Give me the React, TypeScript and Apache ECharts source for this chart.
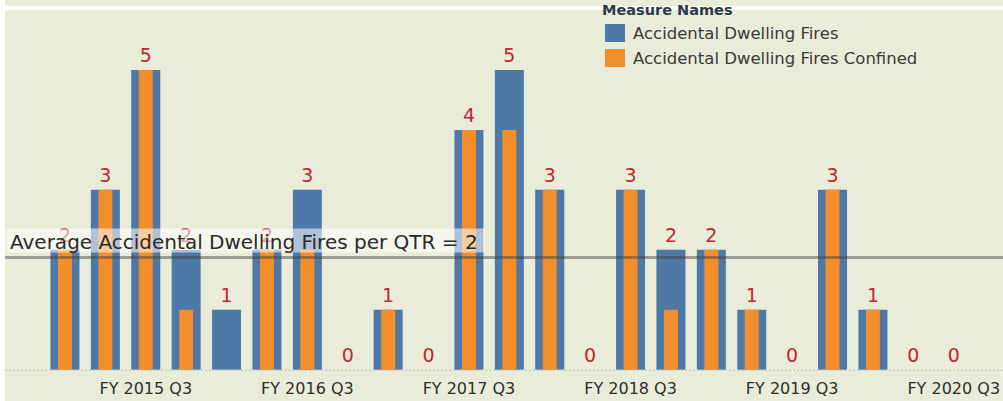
import React, { useEffect, useRef } from "react";
import * as echarts from "echarts";

const categories = [
  "FY 2015 Q1", "FY 2015 Q2", "FY 2015 Q3", "FY 2015 Q4",
  "FY 2016 Q1", "FY 2016 Q2", "FY 2016 Q3", "FY 2016 Q4",
  "FY 2017 Q1", "FY 2017 Q2", "FY 2017 Q3", "FY 2017 Q4",
  "FY 2018 Q1", "FY 2018 Q2", "FY 2018 Q3", "FY 2018 Q4",
  "FY 2019 Q1", "FY 2019 Q2", "FY 2019 Q3", "FY 2019 Q4",
  "FY 2020 Q1", "FY 2020 Q2", "FY 2020 Q3",
];
const fires = [2, 3, 5, 2, 1, 2, 3, 0, 1, 0, 4, 5, 3, 0, 3, 2, 2, 1, 0, 3, 1, 0, 0];
const confined = [2, 3, 5, 1, 0, 2, 2, 0, 1, 0, 4, 4, 3, 0, 3, 1, 2, 1, 0, 3, 1, 0, 0];
const seriesNames = ["Accidental Dwelling Fires", "Accidental Dwelling Fires Confined"];
const legendTitle = "Measure Names";
const avgLabelPrefix = "Average Accidental Dwelling Fires per QTR = ";

const BG = "#e8ecd8";
const BLUE = "#4e79a7";
const ORANGE = "#f28e2b";
const RED = "#c1272d";
const FONT = "'DejaVu Sans', sans-serif";

const showLabel = (i: number) => i % 4 === 2;

export default function App() {
  const ref = useRef<HTMLDivElement>(null);
  useEffect(() => {
    const chart = echarts.init(ref.current!, null, { renderer: "svg" });
    const option: any = {
      animation: false,
      backgroundColor: BG,
      textStyle: { fontFamily: FONT },
      grid: { left: 44.75, right: 26.75, top: 10, bottom: 31.3 },
      xAxis: [
        {
          type: "category",
          data: categories,
          axisLine: { show: false },
          axisTick: {
            show: true,
            alignWithLabel: true,
            interval: (i: number) => showLabel(i),
            length: 3,
            lineStyle: { color: "#ffffff" },
          },
          axisLabel: {
            interval: (i: number) => showLabel(i),
            color: "#2e2e2e",
            fontSize: 16,
            margin: 11,
            fontFamily: FONT,
          },
          splitLine: { show: false },
        },
        { type: "category", data: categories, show: false },
      ],
      yAxis: { type: "value", min: 0, max: 6, show: false, splitLine: { show: false } },
      legend: {
        orient: "vertical",
        left: 605,
        top: 24,
        padding: 0,
        itemWidth: 20,
        itemHeight: 18,
        itemGap: 7,
        icon: "rect",
        textStyle: { color: "#3a3a3a", fontSize: 16.5, fontFamily: FONT, padding: [0, 0, 0, 3] },
        data: seriesNames,
      },
      series: [
        {
          name: seriesNames[0],
          type: "bar",
          data: fires,
          barWidth: 29,
          itemStyle: { color: BLUE },
          label: { show: true, position: "top", color: RED, fontSize: 19, distance: 5, fontFamily: FONT },
          z: 2,
        },
        {
          name: seriesNames[1],
          type: "bar",
          xAxisIndex: 1,
          data: confined,
          barWidth: 14,
          itemStyle: { color: ORANGE },
          z: 3,
        },
      ],
    };
    chart.setOption(option);

    const avg = fires.reduce((a, b) => a + b, 0) / fires.length;
    const yAvg = chart.convertToPixel({ yAxisIndex: 0 }, avg) as number;
    const y0 = chart.convertToPixel({ yAxisIndex: 0 }, 0) as number;

    chart.setOption({
      graphic: [
        { type: "rect", shape: { x: 0, y: 0, width: 5, height: 401 }, style: { fill: "#fff" }, z: 50 },
        { type: "rect", shape: { x: 0, y: 6, width: 1003, height: 4 }, style: { fill: "#fff" }, z: 50 },
        {
          type: "line",
          shape: { x1: 5, y1: y0 + 0.5, x2: 1003, y2: y0 + 0.5 },
          style: { stroke: "#bdbdb5", lineWidth: 1, lineDash: [2, 2] },
          z: 60,
        },
        {
          type: "line",
          shape: { x1: 5, y1: yAvg, x2: 1003, y2: yAvg },
          style: { stroke: "rgba(60,60,60,0.45)", lineWidth: 3 },
          z: 60,
        },
        {
          type: "rect",
          shape: { x: 7, y: yAvg - 29, width: 478, height: 24 },
          style: { fill: "rgba(255,255,255,0.55)" },
          z: 61,
        },
        {
          type: "text",
          x: 10,
          y: yAvg - 16,
          style: {
            text: avgLabelPrefix + Math.round(avg),
            fill: "#2a2a2a",
            font: `20px ${FONT}`,
            verticalAlign: "middle",
          },
          z: 62,
        },
        {
          type: "text",
          x: 602,
          y: 10,
          style: {
            text: legendTitle,
            fill: "#2d3a4a",
            font: `bold 14.5px ${FONT}`,
            verticalAlign: "middle",
          },
          z: 62,
        },
      ],
    });
    return () => chart.dispose();
  }, []);
  return (
    <div
      ref={ref}
      style={{ position: "absolute", left: 0, top: 0, width: 1003, height: 401 }}
    />
  );
}
